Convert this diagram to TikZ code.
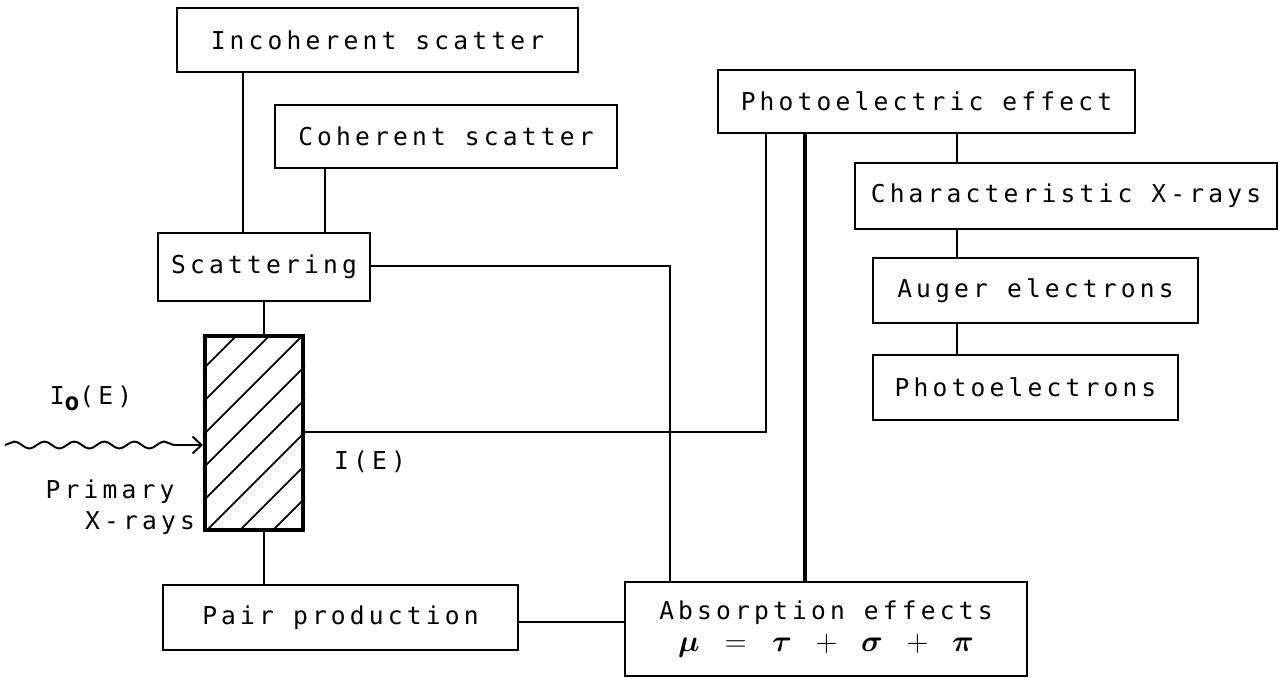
\documentclass[tikz,border=0pt]{standalone}
\usepackage{amsmath,bm}
\usepackage{fontspec}
\newfontfamily\plotfont{DejaVu Sans Mono}[LetterSpace=17]
\usetikzlibrary{arrows.meta,decorations.pathmorphing}

\begin{document}
\begin{tikzpicture}[
  x=0.02cm, y=-0.02cm,
  every node/.style={font={\plotfont\fontsize{14}{16}\selectfont}},
  box/.style={draw, line width=1.4pt, inner sep=0pt},
  link/.style={line width=1.2pt},
  heavy/.style={line width=2.3pt},
  hatch/.style={line width=1pt},
  xray/.style={line width=1.1pt, decorate,
    decoration={snake, amplitude=0.07cm, segment length=0.6cm, post length=0.3cm},
    -{Straight Barb[length=1.8mm, width=3.4mm]}}
]
\useasboundingbox (0,0) rectangle (1279,677);

% boxes
\node[box, minimum width=8.02cm, minimum height=1.28cm] (incoh) at (377.5,40) {Incoherent scatter};
\node[box, minimum width=6.84cm, minimum height=1.26cm] (coh) at (446,136.5) {Coherent scatter};
\node[box, minimum width=4.24cm, minimum height=1.36cm] (scat) at (264,267) {Scattering};
\node[box, line width=2.3pt, minimum width=1.96cm, minimum height=3.88cm] (samp) at (254,433) {};
\node[box, minimum width=7.1cm, minimum height=1.3cm] (pair) at (340.5,617.5) {Pair production};
\node[box, minimum width=8.04cm, minimum height=1.88cm, align=center] (absorb) at (826,629)
  {Absorption effects\\[2pt]
   {\fontsize{17}{19}\selectfont$\bm{\mu}\;\;=\;\;\bm{\tau}\;\;+\;\;\bm{\sigma}\;\;+\;\;\bm{\pi}$}};
\node[box, minimum width=8.34cm, minimum height=1.26cm] (photo) at (926.5,101.5) {Photoelectric effect};
\node[box, minimum width=8.44cm, minimum height=1.32cm] (charx) at (1066,196) {Characteristic X-rays};
\node[box, minimum width=6.5cm, minimum height=1.3cm] (auger) at (1035.5,290.5) {Auger electrons};
\node[box, minimum width=6.1cm, minimum height=1.3cm] (pelec) at (1025.5,387.5) {Photoelectrons};

% hatching of the sample
\begin{scope}
  \clip (samp.south west) rectangle (samp.north east);
  \foreach \k in {9,42,...,273}
    \draw[hatch] (\k,530) -- ++(200,-200);
\end{scope}

% free texts
\node (inlab) at (91,398) {I\raisebox{-0.45ex}{\bfseries o}(E)};
\node (prim) at (110,492) {Primary};
\node (xrays) at (140,523) {X-rays};
\node (outlab) at (370,462) {I(E)};

% columns and rows of the connectors
\coordinate (c1) at (243,0);
\coordinate (c2) at (325,0);
\coordinate (c3) at (264,0);
\coordinate (c4) at (670,0);
\coordinate (c5) at (766,0);
\coordinate (c6) at (805,0);
\coordinate (c7) at (957,0);
\coordinate (r1) at (0,266);
\coordinate (r2) at (0,432);
\coordinate (r3) at (0,622);
\coordinate (src) at (5,445);

% connectors
\draw[link] (incoh.south -| c1) -- (scat.north -| c1);
\draw[link] (coh.south -| c2) -- (scat.north -| c2);
\draw[link] (scat.south -| c3) -- (samp.north -| c3);
\draw[link] (samp.south -| c3) -- (pair.north -| c3);
\draw[link] (scat.east |- r1) -| (absorb.north -| c4);
\draw[link] (samp.east |- r2) -| (photo.south -| c5);
\draw[heavy] (photo.south -| c6) -- (absorb.north -| c6);
\draw[link] (pair.east |- r3) -- (absorb.west |- r3);
\draw[link] (photo.south -| c7) -- (charx.north -| c7);
\draw[link] (charx.south -| c7) -- (auger.north -| c7);
\draw[link] (auger.south -| c7) -- (pelec.north -| c7);
\draw[xray] (src) -- (samp.west |- src);
\end{tikzpicture}
\end{document}
